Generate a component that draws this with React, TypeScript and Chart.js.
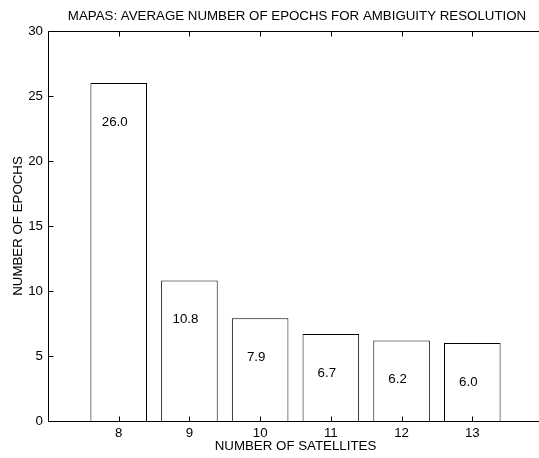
import React, { useEffect, useRef } from "react";
import { Chart, registerables } from "chart.js";

Chart.register(...registerables);

const TITLE = "MAPAS: AVERAGE NUMBER OF EPOCHS FOR AMBIGUITY RESOLUTION";
const X_LABEL = "NUMBER OF SATELLITES";
const Y_LABEL = "NUMBER OF EPOCHS";
const satellites = [8, 9, 10, 11, 12, 13];
const epochs = [26.0, 10.8, 7.9, 6.7, 6.2, 6.0];
const xTicks = [8, 9, 10, 11, 12, 13];
const yTicks = [0, 5, 10, 15, 20, 25, 30];

const FONT = "'Liberation Sans', Arial, Helvetica, sans-serif";
const FS = 13.3;

const framePlugin = {
  id: "frameTicks",
  afterDatasetsDraw(chart: any) {
    const { ctx, chartArea, scales } = chart;
    const { left, right, top, bottom } = chartArea;
    ctx.save();
    ctx.strokeStyle = "#000";
    ctx.lineWidth = 1;
    ctx.beginPath();
    const L = Math.round(left) + 0.5;
    const T = Math.round(top) + 0.5;
    const B = Math.round(bottom) + 0.5;
    ctx.moveTo(right, T);
    ctx.lineTo(L, T);
    ctx.lineTo(L, B);
    ctx.lineTo(right, B);
    for (const v of xTicks) {
      const px = Math.round(scales.x.getPixelForValue(v)) + 0.5;
      ctx.moveTo(px, B);
      ctx.lineTo(px, B - 5);
      ctx.moveTo(px, T);
      ctx.lineTo(px, T + 5);
    }
    for (const v of yTicks) {
      const py = Math.round(scales.y.getPixelForValue(v)) + 0.5;
      ctx.moveTo(L, py);
      ctx.lineTo(L + 5, py);
    }
    ctx.stroke();

    // value labels inside bars
    ctx.fillStyle = "#000";
    ctx.font = `${FS}px ${FONT}`;
    ctx.textAlign = "center";
    ctx.textBaseline = "middle";
    satellites.forEach((s, i) => {
      const v = epochs[i];
      const px = scales.x.getPixelForValue(s) - 4;
      const py = scales.y.getPixelForValue(v - 3);
      ctx.fillText(v.toFixed(1), px, py);
    });
    ctx.restore();
  },
};

export default function App() {
  const ref = useRef<HTMLCanvasElement | null>(null);
  useEffect(() => {
    const canvas = ref.current;
    if (!canvas) return;
    const chart = new Chart(canvas, {
      type: "bar",
      data: {
        datasets: [
          {
            data: satellites.map((s, i) => ({ x: s, y: epochs[i] })),
            backgroundColor: "#ffffff",
            borderColor: "#000000",
            borderWidth: 1,
            barPercentage: 0.8,
            categoryPercentage: 1.0,
            xAxisID: "x",
            yAxisID: "y",
          },
        ],
      },
      options: {
        responsive: false,
        animation: false,
        devicePixelRatio: 1,
        layout: { padding: 0 },
        plugins: {
          legend: { display: false },
          tooltip: { enabled: false },
          title: {
            display: true,
            text: TITLE,
            color: "#000",
            font: { size: FS, family: FONT, weight: "normal" },
            padding: { top: 8, bottom: 7.04 },
          },
        },
        scales: {
          x: {
            type: "linear",
            min: 7,
            max: 14,
            offset: false,
            grid: { display: false, drawTicks: false, offset: false },
            border: { display: false },
            afterBuildTicks: (scale: any) => {
              scale.ticks = xTicks.map((v) => ({ value: v }));
            },
            afterFit: (scale: any) => {
              scale.height = 37;
            },
            ticks: {
              color: "#000",
              padding: 4,
              maxRotation: 0,
              autoSkip: false,
              font: { size: FS, family: FONT },
              callback: (v: any) => String(v),
            },
            title: {
              display: true,
              text: X_LABEL,
              color: "#000",
              font: { size: FS, family: FONT },
              padding: { top: 0, bottom: 3.5 },
            },
          },
          y: {
            type: "linear",
            position: "left",
            min: 0,
            max: 30,
            grid: { display: false, drawTicks: false },
            border: { display: false },
            afterBuildTicks: (scale: any) => {
              scale.ticks = yTicks.map((v) => ({ value: v }));
            },
            afterFit: (scale: any) => {
              scale.width = 48;
            },
            ticks: {
              color: "#000",
              padding: 5,
              font: { size: FS, family: FONT },
              callback: (v: any) => String(v),
            },
            title: {
              display: true,
              text: Y_LABEL,
              color: "#000",
              font: { size: FS, family: FONT },
              padding: { top: 10.8, bottom: 0 },
            },
          },
          yRight: {
            type: "linear",
            position: "right",
            min: 0,
            max: 30,
            grid: { display: false, drawTicks: false },
            border: { display: false },
            ticks: { display: false },
            afterFit: (scale: any) => {
              scale.width = 51;
            },
          },
        },
      },
      plugins: [framePlugin],
    } as any);
    return () => chart.destroy();
  }, []);

  return (
    <div
      style={{
        position: "fixed",
        left: 0,
        top: 0,
        width: 539,
        height: 458,
        overflow: "hidden",
        background: "#fff",
      }}
    >
      <canvas ref={ref} width={594} height={458} style={{ width: 594, height: 458, display: "block" }} />
    </div>
  );
}
